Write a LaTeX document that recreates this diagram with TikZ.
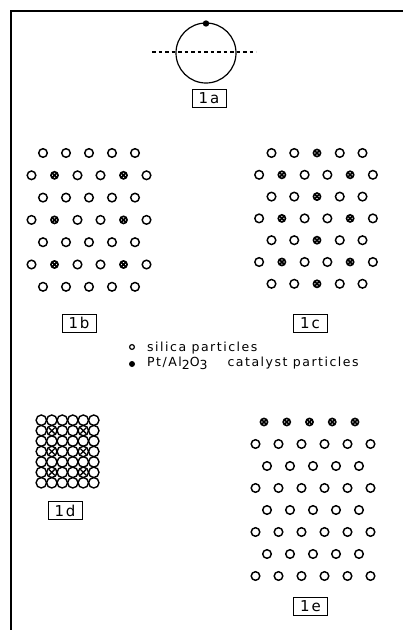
\documentclass[tikz,border=0pt]{standalone}
\usepackage{fontspec}
\setmainfont{DejaVu Sans}
\newfontfamily\lett[LetterSpace=12]{DejaVu Sans}
\usetikzlibrary{positioning}

\tikzset{
  silica/.style={line width=1.45pt},
  catal/.style={line width=1.6pt},
  tag/.style={draw,line width=0.9pt,minimum width=34pt,minimum height=18pt,inner sep=0pt,font=\lett\fontsize{15}{15}\selectfont},
  legtext/.style={anchor=base west,inner sep=0pt,font=\lett\fontsize{12.5}{14}\selectfont}
}
\newcommand{\silp}[2]{\draw[silica] ({#1},{#2}) circle (4.3pt);}
\newcommand{\catp}[2]{\draw[catal] ({#1},{#2}) circle (3.6pt) +(-2.2pt,-2.2pt) -- +(2.2pt,2.2pt) +(-2.2pt,2.2pt) -- +(2.2pt,-2.2pt);}

\begin{document}
\begin{tikzpicture}[x=1pt,y=-1pt]
\useasboundingbox (0,0) rectangle (403,630);
\draw[line width=1.8pt] (403,11) -- (11,11) -- (11,630);

\draw[line width=1.2pt] (206,53) circle (30pt);
\fill (206,23.5) circle (3.2pt);
\draw[line width=1.2pt,dash pattern=on 3.5pt off 3pt] (152,52) -- (256,52);
\node[tag] (tag1a) at (209,98) {1a};

\foreach \k in {0,2,4,6} {
  \foreach \j in {0,...,4} {\silp{89+23*(\j-2)}{153+22.3*\k}}
}
\foreach \k in {1,3,5} {
  \foreach \j in {0,2,3,5} {\silp{89+23*(\j-2.5)}{153+22.3*\k}}
  \foreach \j in {1,4} {\catp{89+23*(\j-2.5)}{153+22.3*\k}}
}
\node[tag] (tag1b) at (79,323) {1b};

\foreach \k in {0,2,4,6} {
  \foreach \j in {0,1,3,4} {\silp{317+22.75*(\j-2)}{153+21.8*\k}}
  \catp{317}{153+21.8*\k}
}
\foreach \k in {1,3,5} {
  \foreach \j in {0,2,3,5} {\silp{316+22.75*(\j-2.5)}{153+21.8*\k}}
  \foreach \j in {1,4} {\catp{316+22.75*(\j-2.5)}{153+21.8*\k}}
}
\node[tag] (tag1c) at (310,323) {1c};

\draw[line width=1.2pt] (132,347) circle (2.4pt);
\fill (132,364) circle (3pt);
\node[legtext] (silt) at (147,351.5) {silica particles};
\node[legtext] (catt) at (147,366.5) {Pt/Al\raisebox{-0.5ex}{2}O\raisebox{-0.5ex}{3}\hspace{20pt}catalyst particles};

\foreach \k in {0,...,6} {
  \foreach \j in {0,...,5} {\draw[line width=1.4pt] ({41.3+10.5*\j},{420.2+10.43*\k}) circle (5.2pt);}
}
\foreach \k in {1,3,5} {
  \foreach \j in {1,4} {\draw[line width=1.3pt] ({41.3+10.5*\j},{420.2+10.43*\k}) +(-3pt,-3pt) -- +(3pt,3pt) +(-3pt,3pt) -- +(3pt,-3pt);}
}
\node[tag] (tag1d) at (65,510.5) {1d};

\foreach \j in {0,...,4} {\catp{264+22.75*\j}{422}}
\foreach \k in {1,3,5,7} {
  \foreach \j in {0,...,5} {\silp{313+23*(\j-2.5)}{422+22*\k}}
}
\foreach \k in {2,4,6} {
  \foreach \j in {0,...,4} {\silp{313+23*(\j-2)}{422+22*\k}}
}
\node[tag] (tag1e) at (310.5,606) {1e};
\end{tikzpicture}
\end{document}
